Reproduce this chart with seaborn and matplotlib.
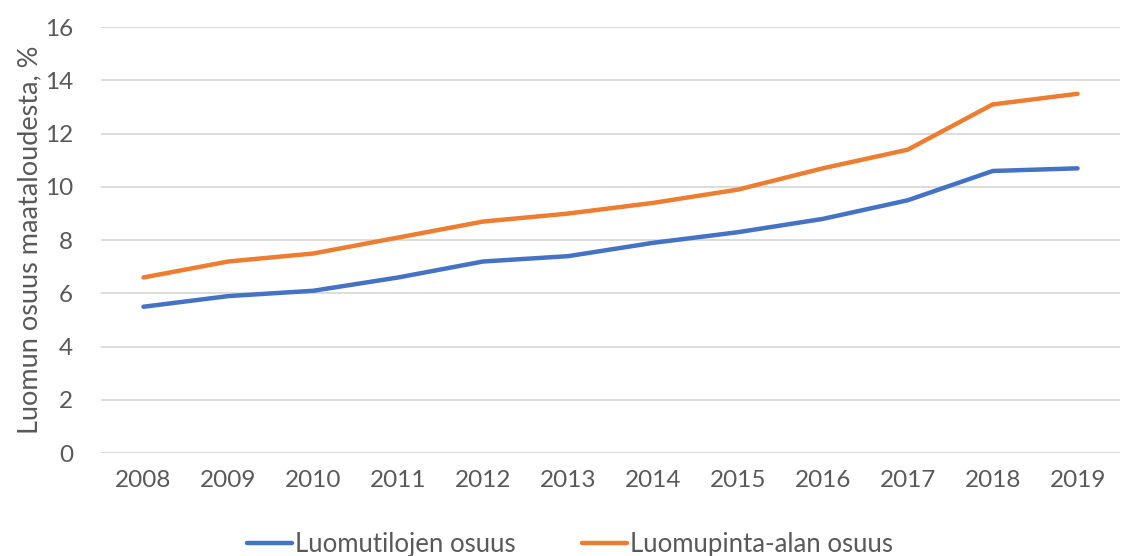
import matplotlib
matplotlib.use("Agg")
import matplotlib.pyplot as plt
import seaborn as sns
import pandas as pd

years = list(range(2008, 2020))
tilat = [5.5, 5.9, 6.1, 6.6, 7.2, 7.4, 7.9, 8.3, 8.8, 9.5, 10.6, 10.7]
pinta_ala = [6.6, 7.2, 7.5, 8.1, 8.7, 9.0, 9.4, 9.9, 10.7, 11.4, 13.1, 13.5]
series_names = ["Luomutilojen osuus", "Luomupinta-alan osuus"]
colors = ["#4472C4", "#ED7D31"]
ylabel = "Luomun osuus maataloudesta, %"

df = pd.DataFrame({
    "Vuosi": years * 2,
    "Osuus": tilat + pinta_ala,
    "Sarja": [series_names[0]] * len(years) + [series_names[1]] * len(years),
})

sns.set_theme(style="white")
plt.rcParams["font.family"] = ["Lato", "DejaVu Sans"]

fig = plt.figure(figsize=(11.26, 5.56), dpi=100)
ax = fig.add_axes([0.0897, 0.185, 0.905, 0.766])

sns.lineplot(data=df, x="Vuosi", y="Osuus", hue="Sarja", hue_order=series_names,
             palette=colors, linewidth=3.2, ax=ax, legend=True)

ax.set_xlim(2007.5, 2019.5)
ax.set_ylim(0, 16)
ax.set_yticks(range(0, 17, 2))
ax.set_xticks(years)
ax.set_xticklabels([str(y) for y in years])
ax.grid(axis="y", color="#d9d9d9", linewidth=1.3)
ax.set_axisbelow(True)
for s in ax.spines.values():
    s.set_visible(False)
ax.tick_params(axis="both", length=0, labelsize=17.5, labelcolor="#595959")
ax.tick_params(axis="x", pad=12)
ax.tick_params(axis="y", pad=20)
ax.set_xlabel("")
ax.set_ylabel(ylabel, fontsize=19.5, color="#595959", labelpad=2)

handles, labels = ax.get_legend_handles_labels()
leg = ax.legend(handles, labels, loc="center", bbox_to_anchor=(0.46, -0.215),
                ncol=2, frameon=False, fontsize=18.5, handlelength=1.75,
                handletextpad=0.1, columnspacing=2.6, labelcolor="#595959")
for line in leg.get_lines():
    line.set_linewidth(3.2)

fig.savefig("out.png", dpi=100)
